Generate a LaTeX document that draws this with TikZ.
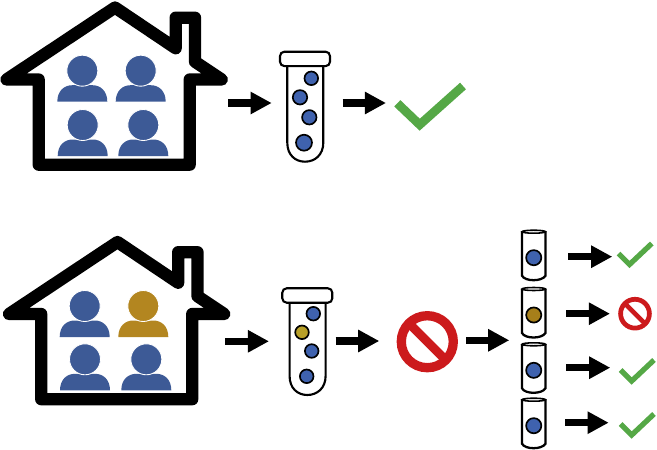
\documentclass[tikz,border=0pt]{standalone}
\usepackage{tikz}
\usetikzlibrary{arrows.meta}
\definecolor{personblue}{HTML}{3D5A96}
\definecolor{persongold}{HTML}{B38620}
\definecolor{ballblue}{HTML}{3F62AE}
\definecolor{ballyellow}{HTML}{B8A028}
\definecolor{ballgold}{HTML}{A67F1A}
\definecolor{okgreen}{HTML}{55A846}
\definecolor{stopred}{HTML}{CC1A1C}
\tikzset{
    blockarrow/.style={line width=4.1pt,-{Triangle[length=12pt,width=12pt]}},
    housewall/.style={line width=7pt,line join=round},
    glass/.style={line width=1.2pt,fill=white},
    ball/.style={draw=black,line width=0.95pt,fill=#1},
    pics/house/.style={code={
        \draw[housewall] (38.7,79.5) -- (6.5,79.5) -- (115,7.5) -- (175.7,48.3) -- (175.7,17.7)
            -- (195,17.7) -- (195,61.7) -- (221.7,79.5) -- (189.7,79.5) -- (189.7,164.7)
            -- (38.7,164.7) -- cycle;
    }},
    pics/person/.style={code={
        \fill[#1] (-25,31) .. controls (-25,20) and (-18,14.5) .. (-10,14.5) -- (10,14.5)
            .. controls (18,14.5) and (25,20) .. (25,31) -- cycle;
        \draw[white,line width=0.5pt,fill=#1] (0,0) circle[radius=15.5];
    }},
    pics/bigtube/.style={code={
        \draw[glass] (7.3,10) -- (7.3,#1-19) .. controls (7.3,#1-7) and (15,#1) .. (25,#1)
            .. controls (35,#1) and (43.3,#1-7) .. (43.3,#1-19) -- (43.3,10);
        \draw[glass,rounded corners=2.5pt] (0,0) rectangle (50,14.4);
    }},
    pics/smalltube/.style={code={
        \draw[line width=1.3pt,fill=white] (0,0) -- (0,44) .. controls (3,50) and (20,50) .. (23.5,44) -- (23.5,0);
        \draw[line width=0.9pt,fill=white] (11.75,0) ellipse[x radius=11.75,y radius=1.5];
        \draw[ball=#1] (11.75,26) circle[radius=7.6];
    }},
    pics/smallcheck/.style={code={
        \draw[okgreen,line width=3pt] (-11,-11) -- (0,0) -- (22.3,-21);
    }},
}
\begin{document}
\begin{tikzpicture}[x=0.02cm,y=-0.02cm]
    \useasboundingbox (0,0) rectangle (657,450);
    % Top house
    \pic at (0,0) {house};
    \pic at (82.3,70.7) {person=personblue};
    \pic at (140.7,70.7) {person=personblue};
    \pic at (82.7,125) {person=personblue};
    \pic at (143.3,125) {person=personblue};
    % Top tube
    \pic at (280,51.7) {bigtube=110};
    \draw[ball=ballblue] (311.3,78.3) circle[radius=6.8];
    \draw[ball=ballblue] (300,97.3) circle[radius=7.2];
    \draw[ball=ballblue] (309.3,117.3) circle[radius=7.2];
    \draw[ball=ballblue] (304,142.7) circle[radius=8];
    % Top result
    \draw[okgreen,line width=5pt] (397.3,103.3) -- (419.7,124.7) -- (463,86);
    % Top arrows
    \coordinate (topHouseOut) at (228,103);
    \coordinate (topTubeIn) at (271.7,103);
    \coordinate (topTubeOut) at (342.7,103);
    \coordinate (topCheckIn) at (386,103);
    \draw[blockarrow] (topHouseOut) -- (topTubeIn);
    \draw[blockarrow] (topTubeOut) -- (topCheckIn);
    % Bottom house
    \pic at (2.5,234.5) {house};
    \pic at (84.7,306) {person=personblue};
    \pic at (143.3,306) {person=persongold};
    \pic at (85,359.3) {person=personblue};
    \pic at (146.3,359.3) {person=personblue};
    % Bottom tube
    \pic at (282.3,288.3) {bigtube=106.7};
    \draw[ball=ballblue] (313.3,313.7) circle[radius=6.8];
    \draw[ball=ballyellow] (302,332.3) circle[radius=6.8];
    \draw[ball=ballblue] (311.7,351) circle[radius=6.8];
    \draw[ball=ballblue] (306.7,376.3) circle[radius=6.8];
    % Big stop sign
    \draw[stopred,line width=5.3pt] (427.3,341.7) circle[radius=26];
    \draw[stopred,line width=5.1pt] (408.9,323.3) -- (445.7,360.1);
    % Small tubes
    \pic at (522,231.7) {smalltube=ballblue};
    \pic at (522,289) {smalltube=ballgold};
    \pic at (522,344.3) {smalltube=ballblue};
    \pic at (522,399.7) {smalltube=ballblue};
    % Small results
    \pic at (629.5,264.5) {smallcheck};
    \draw[stopred,line width=2.7pt] (635,313.7) circle[radius=14.4];
    \draw[stopred,line width=2.6pt] (624.8,303.5) -- (645.2,323.9);
    \pic at (631.7,381) {smallcheck};
    \pic at (631.7,435) {smallcheck};
    % Bottom arrows
    \coordinate (lowHouseOut) at (225,341.3);
    \coordinate (lowTubeIn) at (269,341.3);
    \coordinate (lowTubeOut) at (335.7,341);
    \coordinate (lowStopIn) at (379.3,341);
    \coordinate (lowStopOut) at (466,340.3);
    \coordinate (lowSplitIn) at (509.3,340.3);
    \draw[blockarrow] (lowHouseOut) -- (lowTubeIn);
    \draw[blockarrow] (lowTubeOut) -- (lowStopIn);
    \draw[blockarrow] (lowStopOut) -- (lowSplitIn);
    % Small arrows
    \foreach \name/\xa/\xb/\ypos in {one/568.3/612.3/256.7,two/566/610/313.7,three/566.3/610.3/367.7,four/565/608.7/422.7} {
        \coordinate (\name Out) at (\xa,\ypos);
        \coordinate (\name In) at (\xb,\ypos);
        \draw[blockarrow] (\name Out) -- (\name In);
    }
\end{tikzpicture}
\end{document}
